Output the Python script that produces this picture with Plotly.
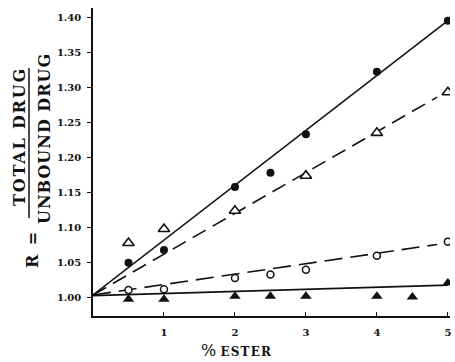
import plotly.graph_objects as go

# ---- data ----
x_filled_circle = [0.5, 1, 2, 2.5, 3, 4, 5]
r_filled_circle = [1.050, 1.068, 1.158, 1.178, 1.233, 1.322, 1.395]

x_open_triangle = [0.5, 1, 2, 3, 4, 5]
r_open_triangle = [1.078, 1.098, 1.124, 1.174, 1.235, 1.293]

x_open_circle = [0.5, 1, 2, 2.5, 3, 4, 5]
r_open_circle = [1.011, 1.012, 1.028, 1.033, 1.040, 1.060, 1.080]

x_filled_triangle = [0.5, 1, 2, 2.5, 3, 4, 4.5, 5]
r_filled_triangle = [0.998, 0.998, 1.002, 1.002, 1.002, 1.002, 1.001, 1.021]

# fitted lines (end points)
fit_x_filled_circle = [0, 5]
fit_r_filled_circle = [1.004, 1.395]
fit_x_open_triangle = [0, 4.85]
fit_r_open_triangle = [1.004, 1.286]
fit_x_open_circle = [0, 4.85]
fit_r_open_circle = [1.004, 1.076]
fit_x_filled_triangle = [0, 5]
fit_r_filled_triangle = [1.003, 1.018]

x_ticks = [1, 2, 3, 4, 5]
x_tick_labels = ["1", "2", "3", "4", "5"]
y_ticks = [1.00, 1.05, 1.10, 1.15, 1.20, 1.25, 1.30, 1.35, 1.40]
y_tick_labels = ["1.00", "1.05", "1.10", "1.15", "1.20", "1.25", "1.30", "1.35", "1.40"]

FONT = "DejaVu Serif"
INK = "#111111"

fig = go.Figure()

# fit lines
fig.add_trace(go.Scatter(x=fit_x_filled_circle, y=fit_r_filled_circle, mode="lines",
                         line=dict(color=INK, width=1.6), hoverinfo="skip"))
fig.add_trace(go.Scatter(x=fit_x_open_triangle, y=fit_r_open_triangle, mode="lines",
                         line=dict(color=INK, width=1.6, dash="15px,8px"), hoverinfo="skip"))
fig.add_trace(go.Scatter(x=fit_x_open_circle, y=fit_r_open_circle, mode="lines",
                         line=dict(color=INK, width=1.6, dash="18px,8px"), hoverinfo="skip"))
fig.add_trace(go.Scatter(x=fit_x_filled_triangle, y=fit_r_filled_triangle, mode="lines",
                         line=dict(color=INK, width=1.8), hoverinfo="skip"))

# markers
fig.add_trace(go.Scatter(x=x_filled_circle, y=r_filled_circle, mode="markers",
                         marker=dict(symbol="circle", size=8, color=INK)))
fig.add_trace(go.Scatter(x=x_open_triangle, y=r_open_triangle, mode="markers",
                         marker=dict(symbol="triangle-up", size=10, color="white",
                                     line=dict(color=INK, width=1.6))))
fig.add_trace(go.Scatter(x=x_open_circle, y=r_open_circle, mode="markers",
                         marker=dict(symbol="circle", size=7, color="white",
                                     line=dict(color=INK, width=1.5))))
fig.add_trace(go.Scatter(x=x_filled_triangle, y=r_filled_triangle, mode="markers",
                         marker=dict(symbol="triangle-up", size=10, color=INK)))

fig.update_layout(
    width=455, height=362,
    margin=dict(l=93, r=5, t=8, b=46),
    paper_bgcolor="white", plot_bgcolor="white",
    showlegend=False,
    font=dict(family=FONT, color=INK),
    xaxis=dict(range=[0, 5.03], tickvals=x_ticks, ticktext=x_tick_labels,
               ticks="inside", ticklen=4, tickwidth=1.2, tickcolor=INK,
               showline=True, linecolor=INK, linewidth=2, showgrid=False, zeroline=False,
               tickfont=dict(family=FONT, size=10, color=INK, weight="bold"),
               ticklabelstandoff=6),
    yaxis=dict(range=[0.974, 1.413], tickvals=y_ticks, ticktext=y_tick_labels,
               ticks="outside", ticklen=4, tickwidth=1.2, tickcolor=INK,
               showline=True, linecolor=INK, linewidth=1.5, showgrid=False, zeroline=False,
               tickfont=dict(family=FONT, size=10, color=INK, weight="bold"),
               ticklabelstandoff=4),
)

# y-axis label: R = TOTAL DRUG / UNBOUND DRUG (rotated fraction)
def ypaper(py):
    return (316 - py) / 308.0

lab_font = dict(family=FONT, size=16, color=INK, weight="bold")
fig.add_annotation(x=0, xref="paper", xshift=20 - 93, y=ypaper(137), yref="paper",
                   text="<span style='letter-spacing:1.8px'>TOTAL DRUG</span>",
                   textangle=-90, showarrow=False, font=lab_font,
                   xanchor="center", yanchor="middle")
fig.add_annotation(x=0, xref="paper", xshift=44 - 93, y=ypaper(139), yref="paper",
                   text="<span style='letter-spacing:1px'>UNBOUND DRUG</span>",
                   textangle=-90, showarrow=False, font=lab_font,
                   xanchor="center", yanchor="middle")
fig.add_annotation(x=0, xref="paper", xshift=32 - 93, y=ypaper(249), yref="paper",
                   text="<span style='letter-spacing:2px'>R =</span>",
                   textangle=-90, showarrow=False, font=lab_font,
                   xanchor="center", yanchor="middle")
fig.add_shape(type="line", xref="paper", yref="paper",
              x0=(29 - 93) / 357.0, x1=(29 - 93) / 357.0, y0=ypaper(68), y1=ypaper(218),
              line=dict(color=INK, width=1.5))

# x-axis label
fig.add_annotation(x=(236 - 93) / 357.0, xref="paper", y=ypaper(351), yref="paper",
                   text="<span style='font-size:16px;font-weight:normal'>%</span> "
                        "<span style='letter-spacing:1.2px'>ESTER</span>",
                   showarrow=False, font=dict(family=FONT, size=12, color=INK, weight="bold"),
                   xanchor="center", yanchor="middle")

fig.write_html("out.html")
